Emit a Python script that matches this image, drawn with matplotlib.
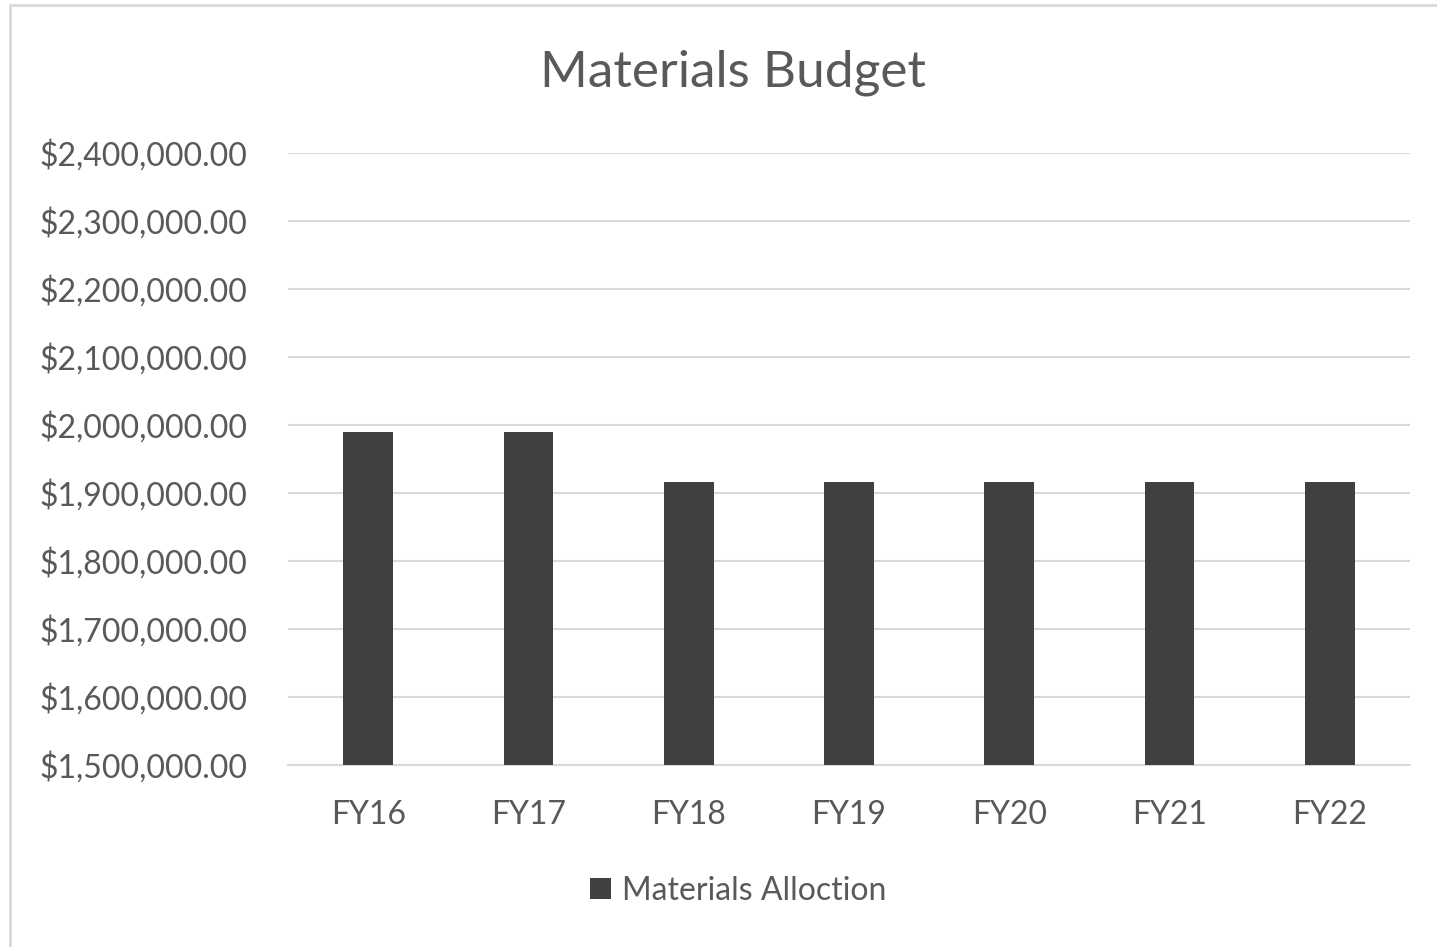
import matplotlib
matplotlib.use("Agg")
import matplotlib.pyplot as plt
from matplotlib.patches import Rectangle
from matplotlib.ticker import FuncFormatter

years = ["FY16", "FY17", "FY18", "FY19", "FY20", "FY21", "FY22"]
allocation = [1990000, 1990000, 1916000, 1916000, 1916000, 1916000, 1916000]
y_ticks = [1500000, 1600000, 1700000, 1800000, 1900000, 2000000, 2100000, 2200000, 2300000, 2400000]

plt.rcParams["font.family"] = ["Lato", "DejaVu Sans"]
TEXT = "#595959"
BAR = "#404040"
GRID = "#d9d9d9"

fig = plt.figure(figsize=(14.37, 9.47), dpi=100)
ax = fig.add_axes([288 / 1437, 1 - 765 / 947, (1410 - 288) / 1437, (765 - 153) / 947])

ax.bar(years, allocation, width=0.31, color=BAR, zorder=3, label="Materials Alloction")
ax.set_ylim(1500000, 2400000)
ax.set_xlim(-0.5, len(years) - 0.5)
ax.set_yticks(y_ticks)
ax.yaxis.set_major_formatter(FuncFormatter(lambda v, p: f"${v:,.2f}"))
ax.grid(axis="y", color=GRID, lw=1.5, zorder=0)
for s in ["top", "right", "left"]:
    ax.spines[s].set_visible(False)
ax.spines["bottom"].set_color(GRID)
ax.spines["bottom"].set_linewidth(1.5)
ax.tick_params(axis="both", length=0, labelsize=23, labelcolor=TEXT)
ax.tick_params(axis="y", pad=29)
ax.tick_params(axis="x", pad=25)

fig.text(733 / 1437, 1 - 73 / 947, "Materials Budget", ha="center", va="center",
         fontsize=37, color=TEXT)
fig.legend(loc="center", bbox_to_anchor=(738 / 1437, 1 - 891 / 947), frameon=False,
           fontsize=23, labelcolor=TEXT, handlelength=0.65, handleheight=0.65,
           handletextpad=0.35)

fig.patches.append(Rectangle((10 / 1437, -0.01), 1.2, 1 - 5 / 947 + 0.01, transform=fig.transFigure,
                             fill=False, edgecolor=GRID, lw=2))
fig.savefig("out.png", dpi=100)
